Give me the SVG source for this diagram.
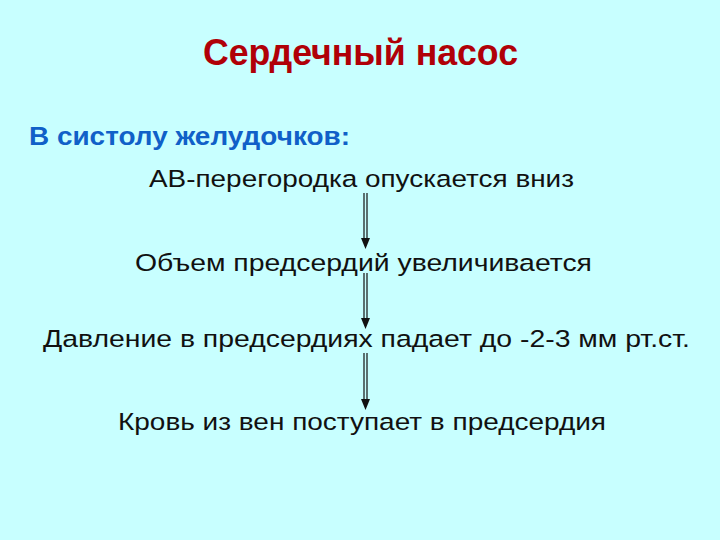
<svg xmlns="http://www.w3.org/2000/svg" width="720" height="540" viewBox="0 0 720 540">
<defs>
<style>
.t{font-family:"Liberation Sans",Arial,sans-serif;font-size:24.5px;fill:#111}
.title{font-family:"Liberation Sans",Arial,sans-serif;font-size:36px;font-weight:bold;fill:#B00008}
.sub{font-family:"Liberation Sans",Arial,sans-serif;font-size:25.5px;font-weight:bold;fill:#1060C8}
.ln{stroke:#111;stroke-width:1.2;fill:none}
.hd{fill:#111}
</style>
</defs>
<rect width="720" height="540" fill="#C8FFFF"/>
<g id="title"><text class="title" x="203" y="65" textLength="315" lengthAdjust="spacingAndGlyphs">Сердечный насос</text></g>
<g id="subtitle"><text class="sub" x="29" y="145" textLength="321" lengthAdjust="spacingAndGlyphs">В систолу желудочков:</text></g>
<g id="n1"><text class="t" x="149" y="187" textLength="425" lengthAdjust="spacingAndGlyphs">АВ-перегородка опускается вниз</text></g>
<g id="n2"><text class="t" x="135" y="271" textLength="457" lengthAdjust="spacingAndGlyphs">Объем предсердий увеличивается</text></g>
<g id="n3"><text class="t" x="43" y="347" textLength="647" lengthAdjust="spacingAndGlyphs">Давление в предсердиях падает до -2-3 мм рт.ст.</text></g>
<g id="n4"><text class="t" x="118" y="430" textLength="488" lengthAdjust="spacingAndGlyphs">Кровь из вен поступает в предсердия</text></g>
<g id="connectors">
<line class="ln" x1="364" y1="193" x2="364" y2="240"/>
<line class="ln" x1="367" y1="193" x2="367" y2="240"/>
<path class="hd" d="M361,238 L370,238 L365.5,249 Z"/>
<line class="ln" x1="364" y1="273" x2="364" y2="320"/>
<line class="ln" x1="367" y1="273" x2="367" y2="320"/>
<path class="hd" d="M361,318 L370,318 L365.5,329 Z"/>
<line class="ln" x1="364" y1="353" x2="364" y2="401"/>
<line class="ln" x1="367" y1="353" x2="367" y2="401"/>
<path class="hd" d="M361,399 L370,399 L365.5,410 Z"/>
</g>
</svg>
